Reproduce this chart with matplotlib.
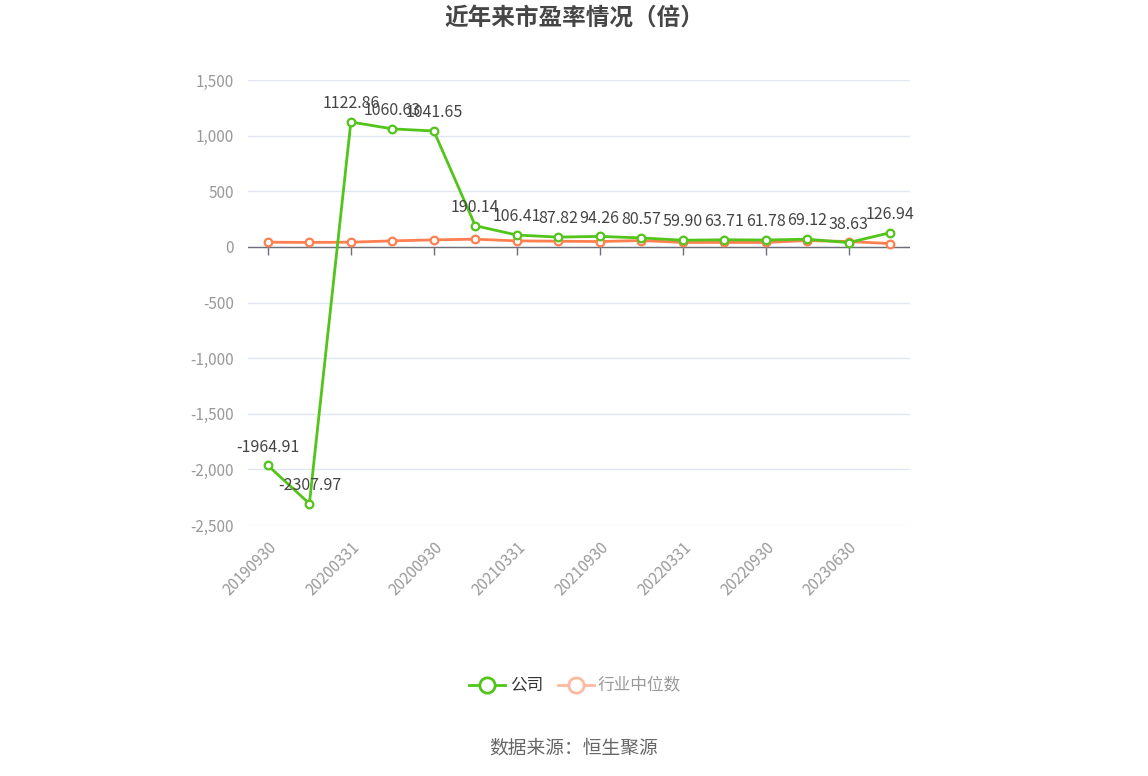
import matplotlib.pyplot as plt
from matplotlib.ticker import FuncFormatter

plt.rcParams['font.family'] = ['Noto Sans CJK SC', 'DejaVu Sans']

dates = ['20190930', '20191231', '20200331', '20200630', '20200930', '20201231',
         '20210331', '20210630', '20210930', '20211231', '20220331', '20220630',
         '20220930', '20230331', '20230630', '20230930']
company = [-1964.91, -2307.97, 1122.86, 1060.63, 1041.65, 190.14, 106.41, 87.82,
           94.26, 80.57, 59.90, 63.71, 61.78, 69.12, 38.63, 126.94]
industry = [42, 40, 42, 54, 63, 69, 54, 51, 48, 57, 40, 40, 40, 57, 48, 30]

green = '#52c41a'
orange = '#ff7f50'

fig = plt.figure(figsize=(11.48, 7.76), dpi=100)
ax = fig.add_axes([248 / 1148, 1 - 525 / 776, 662 / 1148, 445 / 776])

x = list(range(len(dates)))
ax.plot(x, industry, color=orange, lw=2, marker='o', ms=5.5, mfc='white',
        mec=orange, mew=1.6, zorder=3)
ax.plot(x, company, color=green, lw=2, marker='o', ms=5.5, mfc='white',
        mec=green, mew=1.6, zorder=4)

for xi, v in zip(x, company):
    ax.annotate(f'{v:.2f}', (xi, v), xytext=(0, 7), textcoords='offset points',
                ha='center', va='bottom', fontsize=11.5, color='#444444', zorder=5)

ax.set_xlim(-0.48, len(dates) - 0.52)
ax.set_ylim(-2500, 1500)
ax.set_yticks(range(-2500, 1501, 500))
ax.yaxis.set_major_formatter(FuncFormatter(lambda v, p: f'{int(v):,}'))
ax.grid(axis='y', color='#e0e6f1', lw=1)
ax.set_axisbelow(True)

# labels sit at the bottom, tick marks hang from the zero line
ax.set_xticks(x[::2])
ax.set_xticklabels(dates[::2], rotation=45, ha='right', rotation_mode='anchor')
ax.tick_params(axis='x', length=0, labelcolor='#999999', labelsize=11, pad=10)
ax.tick_params(axis='y', length=0, labelcolor='#999999', labelsize=11, pad=10)

for s in ['top', 'right', 'left', 'bottom']:
    ax.spines[s].set_visible(False)
ax.axhline(0, color='#6e7079', lw=1, zorder=2)
ax.plot(x[::2], [0] * len(x[::2]), ls='none', marker=3, ms=6, mew=1,
        color='#6e7079', zorder=2)

fig.text(0.5, 1 - 18 / 776, '近年来市盈率情况（倍）', ha='center', va='center',
         fontsize=17, fontweight='bold', color='#464646')

# legend
lx = 487 / 1148
ly = 1 - 685 / 776
fig.add_artist(plt.Line2D([lx - 18 / 1148, lx + 18 / 1148], [ly, ly], color=green, lw=2,
                          transform=fig.transFigure))
fig.add_artist(plt.Line2D([lx], [ly], color=green, marker='o', ms=11, mfc='white',
                          mew=2, transform=fig.transFigure))
fig.text(510 / 1148, ly, '公司', ha='left', va='center', fontsize=12, color='#333333')
lx2 = 576 / 1148
fig.add_artist(plt.Line2D([lx2 - 18 / 1148, lx2 + 18 / 1148], [ly, ly], color='#ffb9a0',
                          lw=2, transform=fig.transFigure))
fig.add_artist(plt.Line2D([lx2], [ly], color='#ffb9a0', marker='o', ms=11, mfc='white',
                          mew=2, transform=fig.transFigure))
fig.text(598 / 1148, ly, '行业中位数', ha='left', va='center', fontsize=12, color='#999999')

fig.text(0.5, 1 - 748 / 776, '数据来源：恒生聚源', ha='center', va='center',
         fontsize=13.5, color='#666666')

fig.savefig('out.png', dpi=100)
